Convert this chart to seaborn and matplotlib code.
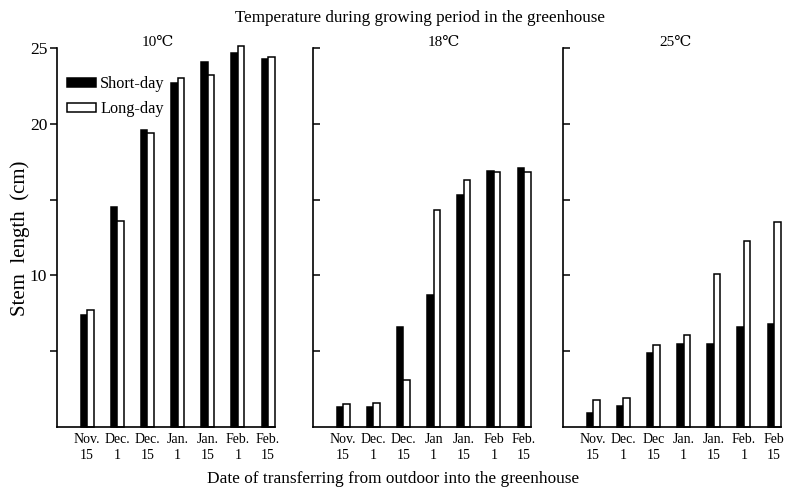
#!/usr/bin/env python3
import pandas as pd
import seaborn as sns
import matplotlib
matplotlib.use("Agg")
import matplotlib.pyplot as plt
from matplotlib.patches import Patch

# dates of transferring into the greenhouse
DATES = ["Nov. 15", "Dec. 1", "Dec. 15", "Jan. 1", "Jan. 15", "Feb. 1", "Feb. 15"]

# tick labels as printed in each panel
LABELS_10 = ["Nov.\n15", "Dec.\n1", "Dec.\n15", "Jan.\n1", "Jan.\n15", "Feb.\n1", "Feb.\n15"]
LABELS_18 = ["Nov.\n15", "Dec.\n1", "Dec.\n15", "Jan\n1", "Jan.\n15", "Feb\n1", "Feb.\n15"]
LABELS_25 = ["Nov.\n15", "Dec.\n1", "Dec\n15", "Jan.\n1", "Jan.\n15", "Feb.\n1", "Feb\n15"]

# stem length (cm)
SHORT_10 = [7.4, 14.5, 19.6, 22.7, 24.1, 24.7, 24.3]
LONG_10 = [7.7, 13.6, 19.4, 23.0, 23.2, 25.1, 24.4]
SHORT_18 = [1.3, 1.3, 6.6, 8.7, 15.3, 16.9, 17.1]
LONG_18 = [1.5, 1.6, 3.1, 14.3, 16.3, 16.8, 16.8]
SHORT_25 = [0.9, 1.4, 4.9, 5.5, 5.5, 6.6, 6.8]
LONG_25 = [1.8, 1.9, 5.4, 6.1, 10.1, 12.3, 13.5]

PANELS = [
    ("10℃", SHORT_10, LONG_10, LABELS_10),
    ("18℃", SHORT_18, LONG_18, LABELS_18),
    ("25℃", SHORT_25, LONG_25, LABELS_25),
]

SERIF = ["Liberation Serif", "DejaVu Serif", "DejaVu Sans"]

sns.set_style("ticks")
plt.rcParams["font.family"] = SERIF
plt.rcParams["axes.edgecolor"] = "black"
plt.rcParams["axes.linewidth"] = 1.2
for key in ["text.color", "axes.labelcolor", "xtick.color", "ytick.color"]:
    plt.rcParams[key] = "black"

W, H = 787, 488
fig = plt.figure(figsize=(W / 100, H / 100), dpi=100)

lefts = [57, 313, 563]
title_x = [158, 444, 676]
bottom, top = 427, 48
pw = 218

palette = {"Short-day": "black", "Long-day": "white"}

for i, (temp, short, long_, labels) in enumerate(PANELS):
    df = pd.DataFrame({
        "date": DATES * 2,
        "length": short + long_,
        "photoperiod": ["Short-day"] * len(DATES) + ["Long-day"] * len(DATES),
    })
    ax = fig.add_axes([lefts[i] / W, 1 - bottom / H, pw / W, (bottom - top) / H])
    sns.barplot(data=df, x="date", y="length", hue="photoperiod",
                order=DATES, hue_order=["Short-day", "Long-day"],
                palette=palette, edgecolor="black", linewidth=1.1,
                width=0.43, gap=0, legend=False, ax=ax)
    for bar in ax.patches:
        bar.set_clip_on(False)
    ax.set_xlim(-1, 6.23)
    ax.set_ylim(0, 25)
    sns.despine(ax=ax)
    ax.set_xlabel("")
    ax.set_ylabel("")
    ax.set_xticks(range(len(DATES)))
    ax.set_xticklabels(labels, fontsize=10, linespacing=1.35)
    ax.tick_params(axis="x", length=0, pad=4)
    ax.set_yticks([5, 10, 15, 20, 25])
    if i == 0:
        ax.set_yticklabels(["", "10", "", "20", "25"], fontsize=12.5)
        ax.tick_params(axis="y", direction="out", length=5, width=1.1, pad=2)
    else:
        ax.set_yticklabels([])
        ax.tick_params(axis="y", direction="in", length=5, width=1.1)
    fig.text(title_x[i] / W, 1 - 42 / H, temp, ha="center", va="center",
             fontsize=11)

    if i == 0:
        handles = [Patch(facecolor="black", edgecolor="black", linewidth=1.1),
                   Patch(facecolor="white", edgecolor="black", linewidth=1.1)]
        ax.legend(handles, ["Short-day", "Long-day"], loc="upper left",
                  bbox_to_anchor=(0.045, 0.925), frameon=False, fontsize=11.7,
                  handlelength=1.8, handleheight=0.45, handletextpad=0.25,
                  labelspacing=0.55, borderpad=0, borderaxespad=0)

fig.text(420 / W, 1 - 18 / H, "Temperature during growing period in the greenhouse",
         ha="center", va="center", fontsize=12.3)
fig.text(393 / W, 1 - 479 / H, "Date of transferring from outdoor into the greenhouse",
         ha="center", va="center", fontsize=12.4)
fig.text(20 / W, 1 - 238 / H, "Stem  length  (cm)", ha="center", va="center",
         rotation=90, fontsize=15)

fig.savefig("out.png", dpi=100)
